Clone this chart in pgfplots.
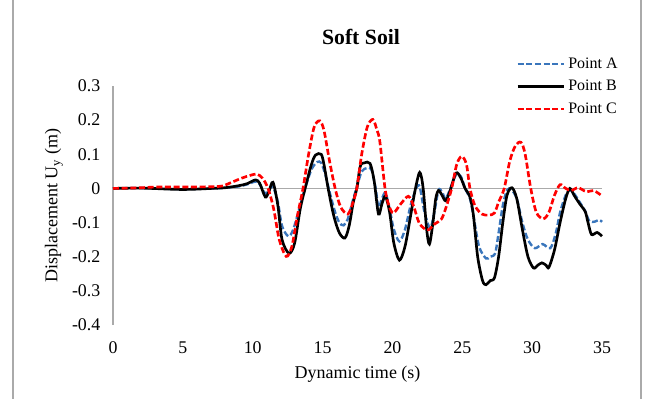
\documentclass[border=0pt]{standalone}
\usepackage{pgfplots}
\pgfplotsset{compat=1.18}
\usepackage{fontspec}
\setmainfont{Liberation Serif}
\definecolor{ptA}{RGB}{58,118,188}
\definecolor{ptC}{RGB}{255,0,0}
\definecolor{frame}{RGB}{170,170,170}
\begin{document}
\begin{tikzpicture}
% picture bounds: 645 x 399 px at 0.75pt/px
\path[use as bounding box] (0pt,0pt) rectangle (483.75pt,-299.25pt);
\draw[frame, line width=0.8pt] (9.75pt,0pt) -- (9.75pt,-299.25pt);
\draw[frame, line width=0.8pt] (480.75pt,0pt) -- (480.75pt,-299.25pt);
\node[font=\fontsize{16.3}{19}\selectfont\bfseries] at (270.75pt,-27.75pt) {Soft Soil};
\begin{axis}[
  at={(84.75pt,-243.75pt)}, anchor=south west,
  scale only axis, width=366.75pt, height=179.25pt,
  xmin=0, xmax=35, ymin=-0.4, ymax=0.3,
  xtick={0,5,...,35},
  ytick={-0.4,-0.3,...,0.3},
  yticklabels={-0.4,-0.3,-0.2,-0.1,0,0.1,0.2,0.3},
  axis x line*=bottom, axis y line*=left,
  x axis line style={draw=none},
  y axis line style={frame, line width=0.8pt},
  major tick length=0pt,
  /pgf/number format/assume math mode=true,
  tick label style={font=\fontsize{13.4}{16}\selectfont},
  xticklabel style={yshift=-9pt},
  yticklabel style={xshift=-6pt},
  xlabel={Dynamic time (s)},
  ylabel={Displacement U\textsubscript{y} (m)},
  label style={font=\fontsize{13.5}{16}\selectfont},
  xlabel style={yshift=-2pt},
  legend style={at={(0.816,1.142)}, anchor=north west, draw=none, fill=none,
    font=\fontsize{12}{14}\selectfont, row sep=3.5pt},
  legend cell align=left,
  legend image code/.code={\draw[#1] (0pt,0pt) -- (35pt,0pt);},
  clip=false,
]
\addplot[frame, line width=0.8pt, forget plot] coordinates {(0,0) (35,0)};
% Point A
\addplot[ptA, line width=1.8pt, dash pattern=on 4.5pt off 2pt, smooth, tension=0.5] coordinates {
(0,0) (2,0.001) (5,-0.002) (7,0) (8,0.002) (9,0.006) (9.6,0.012) (10.2,0.02) (10.5,0.012)
(10.9,-0.015) (11.15,-0.005) (11.45,0.005) (11.8,-0.04) (12.1,-0.11) (12.55,-0.14) (12.9,-0.12)
(13.4,-0.05) (13.75,0.0) (14.2,0.055) (14.6,0.077) (14.9,0.075) (15.2,0.04) (15.5,-0.01)
(15.9,-0.07) (16.2,-0.1) (16.5,-0.108) (16.8,-0.09) (17.2,-0.03) (17.5,0.01) (17.8,0.05)
(18.2,0.06) (18.5,0.055) (18.8,0.0) (19.0,-0.055) (19.25,-0.03) (19.5,-0.013) (19.8,-0.06)
(20.1,-0.12) (20.5,-0.155) (20.9,-0.12) (21.3,-0.05) (21.7,0.0) (21.95,0.005) (22.3,-0.07)
(22.7,-0.116) (23.0,-0.07) (23.3,-0.005) (23.55,-0.01) (23.8,-0.03) (24.1,-0.005) (24.55,0.04)
(24.9,0.035) (25.2,0.0) (25.55,-0.03) (25.8,-0.08) (26.2,-0.17) (26.7,-0.205) (27.0,-0.2)
(27.35,-0.19) (27.6,-0.13) (27.9,-0.05) (28.2,-0.005) (28.5,-0.003) (28.9,-0.03) (29.3,-0.1)
(29.7,-0.15) (30.2,-0.175) (30.75,-0.163) (31.3,-0.175) (31.7,-0.13) (32.0,-0.07) (32.4,-0.02)
(32.7,-0.004) (33.0,-0.015) (33.4,-0.04) (33.8,-0.067) (34.1,-0.096) (34.5,-0.097) (34.8,-0.092)
(35.0,-0.098)
};
\addlegendentry{Point A}
% Point B
\addplot[black, line width=2pt, smooth, tension=0.5] coordinates {
(0,0) (2,0.001) (4,-0.002) (5,-0.003) (6,-0.002) (7,0) (8,0.002) (9,0.008) (9.6,0.014)
(10.2,0.025) (10.5,0.015) (10.9,-0.025) (11.15,-0.01) (11.45,0.018) (11.8,-0.05) (12.1,-0.15)
(12.6,-0.19) (13.0,-0.16) (13.4,-0.06) (13.75,0.0) (14.2,0.07) (14.5,0.098) (14.9,0.1)
(15.1,0.07) (15.4,0.0) (15.8,-0.08) (16.2,-0.13) (16.6,-0.145) (16.9,-0.11) (17.2,-0.04)
(17.45,0.0) (17.7,0.065) (18.0,0.075) (18.4,0.073) (18.7,0.02) (19.0,-0.075) (19.25,-0.045)
(19.5,-0.023) (19.8,-0.07) (20.1,-0.16) (20.5,-0.21) (20.9,-0.17) (21.3,-0.08) (21.6,-0.01)
(21.95,0.047) (22.2,0.0) (22.45,-0.12) (22.65,-0.163) (22.9,-0.1) (23.1,-0.03) (23.3,-0.006)
(23.55,-0.02) (23.8,-0.036) (24.1,-0.01) (24.55,0.045) (24.9,0.03) (25.2,0.0) (25.55,-0.025)
(25.8,-0.08) (26.1,-0.2) (26.45,-0.27) (26.7,-0.282) (27.0,-0.27) (27.3,-0.262) (27.6,-0.2)
(27.9,-0.1) (28.2,-0.02) (28.55,0.002) (28.9,-0.03) (29.3,-0.12) (29.7,-0.2) (30.1,-0.233)
(30.4,-0.225) (30.7,-0.218) (31.0,-0.225) (31.2,-0.231) (31.6,-0.18) (32.0,-0.1) (32.4,-0.03)
(32.7,0.0) (33.0,-0.02) (33.4,-0.045) (33.8,-0.068) (34.0,-0.1) (34.25,-0.135) (34.65,-0.129)
(35.0,-0.14)
};
\addlegendentry{Point B}
% Point C
\addplot[ptC, line width=2pt, dash pattern=on 4.5pt off 2pt, smooth, tension=0.5] coordinates {
(0,0) (2,0.002) (3,0.004) (5,0.004) (7,0.005) (7.8,0.007) (8.5,0.018) (9.2,0.03) (9.8,0.038)
(10.3,0.042) (10.7,0.03) (11.1,0.0) (11.5,-0.06) (11.9,-0.15) (12.4,-0.199) (12.8,-0.17)
(13.2,-0.08) (13.6,0.0) (14.0,0.1) (14.4,0.18) (14.8,0.198) (15.1,0.17) (15.5,0.08) (15.9,0.0)
(16.3,-0.055) (16.8,-0.075) (17.1,-0.05) (17.45,0.0) (17.8,0.1) (18.2,0.18) (18.6,0.202)
(18.9,0.17) (19.1,0.137) (19.47,0.0) (19.75,-0.05) (20.07,-0.072) (20.6,-0.045) (21.14,-0.023)
(21.5,-0.05) (21.9,-0.1) (22.3,-0.118) (22.6,-0.121) (23.0,-0.105) (23.5,-0.09) (23.8,-0.06)
(24.24,0.0) (24.6,0.07) (24.96,0.094) (25.3,0.07) (25.55,0.0) (25.9,-0.05) (26.4,-0.075)
(26.9,-0.078) (27.3,-0.072) (27.6,-0.04) (28.0,0.0) (28.4,0.08) (28.8,0.125) (29.2,0.135)
(29.5,0.1) (29.9,0.0) (30.3,-0.07) (30.8,-0.089) (31.2,-0.07) (31.6,-0.02) (32.0,0.011)
(32.4,0.0) (32.8,-0.006) (33.3,0.002) (33.9,-0.01) (34.4,-0.006) (35.0,-0.022)
};
\addlegendentry{Point C}
\end{axis}
\end{tikzpicture}
\end{document}
